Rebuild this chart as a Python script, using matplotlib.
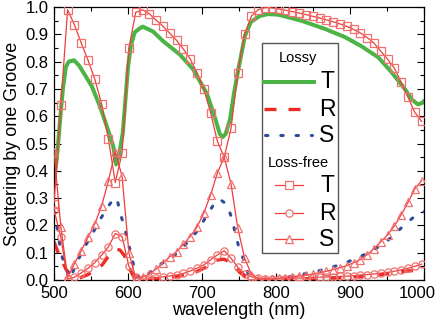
import matplotlib
matplotlib.use("Agg")
import matplotlib.pyplot as plt
from matplotlib.lines import Line2D
from matplotlib.patches import Rectangle
from matplotlib.ticker import MultipleLocator
from matplotlib.transforms import ScaledTranslation

plt.rcParams['font.family'] = ['Liberation Sans', 'DejaVu Sans']

# ---------------- data ----------------
# loss-free (symbols), sampled wavelengths (nm)
wl_free = [500.0, 509.2, 518.4, 527.6, 536.8, 546.0, 555.2, 564.4, 573.6, 582.8,
           592.0, 601.2, 610.4, 619.6, 628.8, 638.0, 647.2, 656.4, 665.6, 674.8,
           684.0, 693.2, 702.4, 711.6, 720.8, 730.0, 739.2, 748.4, 757.6, 766.8,
           776.0, 785.2, 794.4, 803.6, 812.8, 822.0, 831.2, 840.4, 849.6, 858.8,
           868.0, 877.2, 886.4, 895.6, 904.8, 914.0, 923.2, 932.4, 941.6, 950.8,
           960.0, 969.2, 978.4, 987.6, 996.8]
T_free = [0.28, 0.64, 0.99, 0.935, 0.868, 0.805, 0.735, 0.645, 0.515, 0.357,
          0.465, 0.85, 0.98, 0.99, 0.975, 0.952, 0.93, 0.904, 0.878, 0.846,
          0.81, 0.76, 0.70, 0.613, 0.508, 0.45, 0.555, 0.76, 0.90, 0.967,
          0.99, 0.998, 0.997, 0.993, 0.988, 0.983, 0.978, 0.972, 0.966, 0.96,
          0.953, 0.946, 0.938, 0.929, 0.918, 0.905, 0.888, 0.868, 0.838, 0.809,
          0.776, 0.724, 0.669, 0.614, 0.581]
R_free = [0.257, 0.157, 0.003, 0.01, 0.026, 0.043, 0.064, 0.091, 0.122, 0.17,
          0.159, 0.05, 0.012, 0.003, 0.005, 0.008, 0.011, 0.015, 0.018, 0.024,
          0.033, 0.043, 0.055, 0.074, 0.092, 0.107, 0.08, 0.047, 0.022, 0.012,
          0.006, 0.003, 0.003, 0.004, 0.005, 0.006, 0.007, 0.008, 0.009, 0.01,
          0.011, 0.012, 0.013, 0.014, 0.016, 0.018, 0.02, 0.022, 0.025, 0.028,
          0.032, 0.037, 0.043, 0.05, 0.058]
S_free = [0.47, 0.195, 0.01, 0.06, 0.107, 0.157, 0.206, 0.272, 0.364, 0.47,
          0.38, 0.10, 0.007, 0.01, 0.022, 0.04, 0.063, 0.085, 0.104, 0.131,
          0.159, 0.194, 0.245, 0.312, 0.392, 0.45, 0.352, 0.19, 0.08, 0.02,
          0.003, 0.002, 0.004, 0.006, 0.008, 0.011, 0.014, 0.018, 0.022, 0.027,
          0.032, 0.038, 0.045, 0.053, 0.063, 0.075, 0.093, 0.115, 0.14, 0.165,
          0.198, 0.239, 0.284, 0.334, 0.364]

# lossy (lines)
wl_T_lossy = [500, 504, 508, 512, 516, 520, 527, 534, 542, 551, 562, 573, 580, 584,
              588, 593, 600, 604, 609, 616, 620, 634, 647, 670, 688, 707, 718, 724,
              728, 732, 738, 743, 749, 758, 766, 778, 789, 803, 834, 866, 893, 915,
              938, 955, 974, 984, 992, 997, 1000]
T_lossy = [0.36, 0.45, 0.58, 0.70, 0.78, 0.80, 0.805, 0.785, 0.75, 0.71, 0.637, 0.55,
           0.49, 0.423, 0.46, 0.54, 0.78, 0.86, 0.907, 0.922, 0.928, 0.91, 0.876,
           0.826, 0.772, 0.68, 0.59, 0.535, 0.524, 0.535, 0.59, 0.68, 0.77, 0.894,
           0.945, 0.967, 0.974, 0.972, 0.95, 0.92, 0.89, 0.857, 0.816, 0.765, 0.70,
           0.66, 0.643, 0.648, 0.655]

wl_R_lossy = [500, 505, 511, 516, 522, 528, 535, 546, 555, 565, 573, 580, 585, 589,
              595, 599, 603, 608, 616, 630, 650, 670, 691, 704, 713, 722, 730, 736,
              743, 751, 759, 768, 785, 832, 886, 927, 954, 974, 1000]
R_lossy = [0.14, 0.105, 0.07, 0.04, 0.02, 0.005, 0.008, 0.02, 0.035, 0.055, 0.085,
           0.103, 0.112, 0.11, 0.09, 0.063, 0.037, 0.01, 0.003, 0.004, 0.008, 0.015,
           0.028, 0.045, 0.062, 0.074, 0.076, 0.068, 0.05, 0.028, 0.012, 0.004,
           0.002, 0.004, 0.008, 0.015, 0.024, 0.032, 0.038]

wl_S_lossy = [500, 504, 507, 511, 518, 522, 527, 539, 551, 562, 572, 580, 585, 589,
              595, 600, 605, 609, 614, 619, 626, 639, 661, 680, 695, 707, 720, 727,
              734, 741, 745, 750, 758, 762, 768, 776, 805, 853, 891, 928, 949, 969,
              988, 1000]
S_lossy = [0.25, 0.195, 0.14, 0.085, 0.03, 0.005, 0.04, 0.11, 0.165, 0.22, 0.265,
           0.295, 0.30, 0.25, 0.195, 0.14, 0.085, 0.037, 0.01, 0.0, 0.02, 0.05, 0.085,
           0.136, 0.184, 0.239, 0.294, 0.29, 0.276, 0.22, 0.17, 0.118, 0.063, 0.026,
           0.005, 0.0, 0.005, 0.03, 0.059, 0.103, 0.14, 0.19, 0.235, 0.25]

x_ticks = [500, 600, 700, 800, 900, 1000]
y_ticks = [0.0, 0.1, 0.2, 0.3, 0.4, 0.5, 0.6, 0.7, 0.8, 0.9, 1.0]

# ---------------- style ----------------
GREEN = '#4cb447'
RED = '#ee2a24'
BLUE = '#2f4c9c'
FREE_LINE = '#f03c3c'
FREE_MK = '#f07070'

W, H = 436, 324
fig = plt.figure(figsize=(W / 100, H / 100), dpi=100)
AX_L, AX_R, AX_T, AX_B = 54, 424, 7, 280
ax = fig.add_axes([AX_L / W, 1 - AX_B / H, (AX_R - AX_L) / W, (AX_B - AX_T) / H])

ax.plot(wl_T_lossy, T_lossy, color=GREEN, lw=2.9, solid_joinstyle='round', zorder=2)
ax.plot(wl_R_lossy, R_lossy, color=RED, lw=2.4, dashes=(3.6, 3.6), zorder=2)
ax.plot(wl_S_lossy, S_lossy, color=BLUE, lw=2.2, dashes=(0.8, 4.2),
        dash_capstyle='round', zorder=2)

mk_kw = dict(color=FREE_LINE, lw=0.9, markersize=5.2, markerfacecolor='none',
             markeredgecolor=FREE_MK, markeredgewidth=0.9, zorder=3)
ax.plot(wl_free, T_free, marker='s', **mk_kw)
ax.plot(wl_free, R_free, marker='o', **mk_kw)
ax.plot(wl_free, S_free, marker='^', **mk_kw)

ax.set_xlim(500, 1000)
ax.set_ylim(0, 1.0)
ax.set_xticks(x_ticks)
ax.set_yticks(y_ticks)
ax.xaxis.set_minor_locator(MultipleLocator(50))
ax.yaxis.set_minor_locator(MultipleLocator(0.05))
ax.tick_params(which='both', direction='in', top=True, right=True, labelsize=12,
               width=0.8, pad=4)
ax.tick_params(which='major', length=5)
ax.tick_params(which='minor', length=3)
for s in ax.spines.values():
    s.set_linewidth(0.9)

# keep the last x tick label inside the canvas, as in the reference
fig.canvas.draw()
last = ax.get_xticklabels()[-1]
last.set_transform(last.get_transform() + ScaledTranslation(-7 / 100, 0, fig.dpi_scale_trans))

ax.set_xlabel('wavelength (nm)', fontsize=13, labelpad=1)
ax.set_ylabel('Scattering by one Groove', fontsize=13, labelpad=3)

# ---------------- legend (drawn manually) ----------------
def fx(px):
    return (px - AX_L) / (AX_R - AX_L)

def fy(py):
    return (AX_B - py) / (AX_B - AX_T)

tr = ax.transAxes
box = Rectangle((fx(262), fy(253)), fx(338) - fx(262), fy(43) - fy(253),
                transform=tr, facecolor='white', edgecolor='#555555', lw=1.0, zorder=5)
ax.add_patch(box)
ax.text(fx(298), fy(58), 'Lossy', transform=tr, ha='center', va='center',
        fontsize=10.5, zorder=6)
ax.text(fx(298), fy(163), 'Loss-free', transform=tr, ha='center', va='center',
        fontsize=10.5, zorder=6)

ax.add_line(Line2D([fx(264), fx(314)], [fy(82)] * 2, transform=tr, color=GREEN,
                   lw=2.9, zorder=6))
ax.add_line(Line2D([fx(264), fx(301)], [fy(109)] * 2, transform=tr, color=RED,
                   lw=2.4, dashes=(3.6, 3.6), zorder=6))
ax.add_line(Line2D([fx(265), fx(312)], [fy(135)] * 2, transform=tr, color=BLUE,
                   lw=2.2, dashes=(0.8, 4.2), dash_capstyle='round', zorder=6))
for yy, mk in [(185, 's'), (213, 'o'), (239, '^')]:
    ax.add_line(Line2D([fx(275), fx(303)], [fy(yy)] * 2, transform=tr,
                       color=FREE_LINE, lw=0.9, zorder=6))
    ax.add_line(Line2D([fx(289)], [fy(yy)], transform=tr, marker=mk, markersize=5.2,
                       markerfacecolor='white', markeredgecolor=FREE_MK,
                       markeredgewidth=0.9, lw=0, zorder=7))
for yy, lab in [(82, 'T'), (109, 'R'), (135, 'S'), (185, 'T'), (213, 'R'), (239, 'S')]:
    ax.text(fx(327), fy(yy), lab, transform=tr, ha='center', va='center',
            fontsize=16.5, zorder=6)

fig.savefig('out.png', dpi=100)
